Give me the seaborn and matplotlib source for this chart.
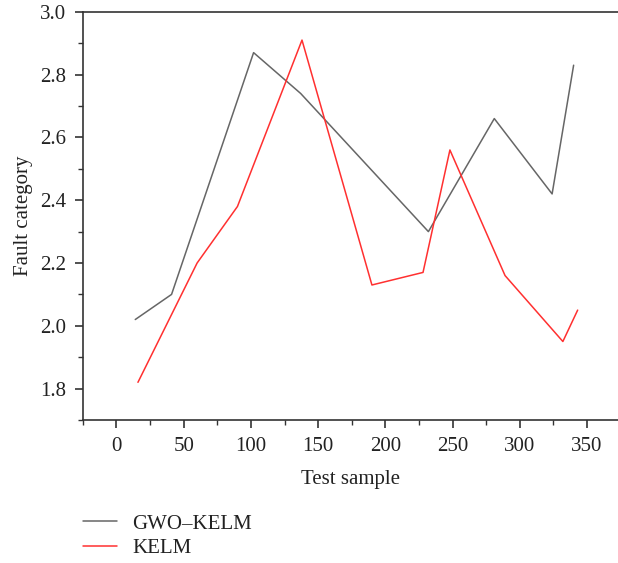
import matplotlib
matplotlib.use('Agg')
import matplotlib.pyplot as plt
import seaborn as sns
from matplotlib.ticker import MultipleLocator

# valores
gwo_x = [14, 41, 102, 137, 232, 281, 324, 340]
gwo_y = [2.02, 2.10, 2.87, 2.74, 2.30, 2.66, 2.42, 2.83]

kelm_x = [16, 60, 90, 138, 190, 228, 248, 289, 332, 343]
kelm_y = [1.82, 2.20, 2.38, 2.91, 2.13, 2.17, 2.56, 2.16, 1.95, 2.05]

sns.set_style('ticks')
plt.rcParams['font.family'] = ['Liberation Serif', 'DejaVu Serif']

fig = plt.figure(figsize=(6.18, 5.63), dpi=100)
ax = fig.add_axes([0.134, 0.254, 0.866, 0.725])

sns.lineplot(x=gwo_x, y=gwo_y, ax=ax, color='#666666', lw=1.1, label='GWO\u2013KELM')
sns.lineplot(x=kelm_x, y=kelm_y, ax=ax, color='#ff3030', lw=1.1, label='KELM')

ax.set_xlim(-25, 373)
ax.set_ylim(1.7, 3.0)
ax.xaxis.set_major_locator(MultipleLocator(50))
ax.xaxis.set_minor_locator(MultipleLocator(25))
ax.yaxis.set_major_locator(MultipleLocator(0.2))
ax.yaxis.set_minor_locator(MultipleLocator(0.1))
ax.set_yticks([1.8, 2.0, 2.2, 2.4, 2.6, 2.8, 3.0])
ax.set_yticklabels(['1.8', '2.0', '2.2', '2.4', '2.6', '2.8', '3.0'])

ax.tick_params(which='major', length=6, width=1.2, color='#333333', labelsize=15,
               labelcolor='#222222', pad=6)
ax.tick_params(which='minor', length=3.5, width=1.0, color='#333333')
for side in ['left', 'bottom', 'top']:
    ax.spines[side].set_color('#333333')
    ax.spines[side].set_linewidth(1.2)
ax.spines['right'].set_visible(False)

ax.set_xlabel('Test sample', fontsize=15, color='#222222', labelpad=10)
ax.set_ylabel('Fault category', fontsize=15, color='#222222', labelpad=5)

handles, labels = ax.get_legend_handles_labels()
ax.get_legend().remove()
fig.legend(handles, labels, loc='upper left', bbox_to_anchor=(0.11, 0.113),
           frameon=False, fontsize=15, handlelength=1.65, handletextpad=0.75,
           labelspacing=0.25, labelcolor='#222222', borderpad=0.2)

fig.savefig('out.png', dpi=100)
